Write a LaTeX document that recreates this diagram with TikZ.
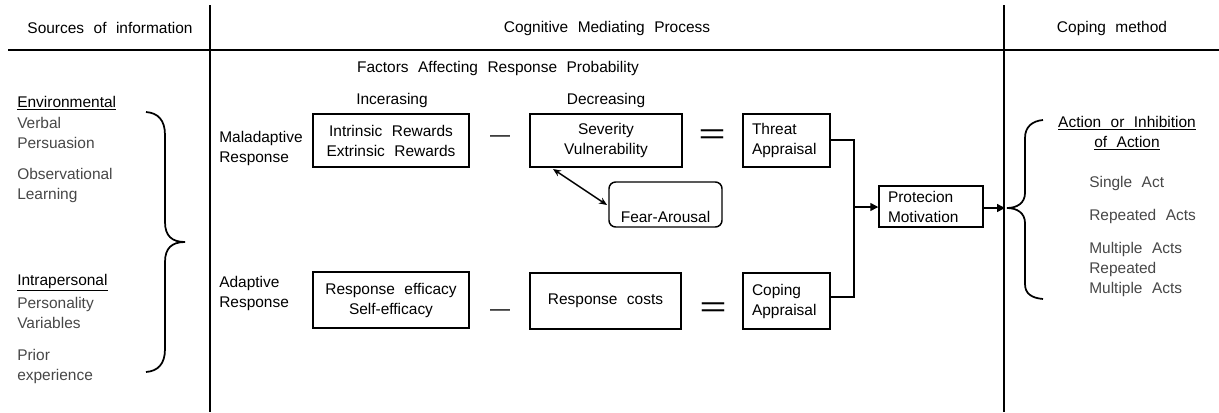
\documentclass[tikz,border=0pt]{standalone}
\usepackage{fontspec}
\usepackage{graphicx}
\setmainfont{Liberation Sans}[WordSpace={2.2,0,0}]
\usetikzlibrary{arrows.meta}
\definecolor{gtext}{gray}{0.28}
\begin{document}
\begin{tikzpicture}[x=0.75pt,y=-0.75pt,
  every node/.style={font=\fontsize{11.6pt}{15pt}\selectfont, inner sep=0pt},
  frame/.style={line width=1.5pt},
  box/.style={draw, line width=1.1pt, minimum height=39.75pt, align=center},
  lbox/.style={draw, line width=1.1pt, minimum height=39.75pt, align=left, inner xsep=6.75pt},
  lbl/.style={anchor=west, align=left},
  glbl/.style={anchor=west, align=left, text=gtext},
  conn/.style={line width=1.1pt},
  brace/.style={line width=1.3pt},
  minusop/.style={font=\fontsize{15pt}{15pt}\selectfont},
  eqop/.style={font=\fontsize{21pt}{21pt}\selectfont}
]
\useasboundingbox (0,0) rectangle (1219,412);
% table frame
\coordinate (hl) at (8,50);
\coordinate (hr) at (1219,50);
\coordinate (v1t) at (210,5);
\coordinate (v1b) at (210,412);
\coordinate (v2t) at (1004,5);
\coordinate (v2b) at (1004,412);
\draw[frame] (hl) -- (hr);
\draw[frame] (v1t) -- (v1b);
\draw[frame] (v2t) -- (v2b);
% headers
\node (h1) at (110,28) {Sources of information};
\node (h2) at (607,28) {Cognitive Mediating Process};
\node (h3) at (1112,28) {Coping method};
% left column
\node[lbl] (env) at (17,103) {\underline{Environmental}};
\node[glbl] (verb) at (17,133) {Verbal\\Persuasion};
\node[glbl] (obs) at (17,185) {Observational\\Learning};
\node[lbl] (intra) at (17,283) {\underline{Intrapersonal}};
\node[glbl] (pers) at (17,313) {Personality\\Variables};
\node[glbl] (prior) at (17,366) {Prior\\experience};
% left brace
\coordinate (lbt) at (146,112);
\coordinate (lbm) at (185,242);
\coordinate (lbb) at (146,372);
\draw[brace] (lbt) .. controls (158,113) and (165,120) .. (165,135)
  -- (165,222) .. controls (165,236) and (172,242) .. (lbm)
  .. controls (172,242) and (165,248) .. (165,262)
  -- (165,349) .. controls (165,364) and (158,371) .. (lbb);
% middle column
\node (fac) at (498,68) {Factors Affecting Response Probability};
\node (inc) at (392,100) {Incerasing};
\node (dec) at (606,100) {Decreasing};
\node[lbl] (mal) at (219,148) {Maladaptive\\Response};
\node[lbl] (ada) at (219,293) {Adaptive\\Response};
\node[box, minimum width=117pt] (intr) at (391,140.5) {Intrinsic Rewards\\Extrinsic Rewards};
\node[minusop] (m1) at (500,139) {—};
\node[box, minimum width=114pt] (sev) at (606,140.5) {Severity\\Vulnerability};
\node[eqop] (e1) at (712,137) {\scalebox{1.65}[1]{=}};
\node[lbox, text width=51.75pt] (thr) at (786.5,140.5) {Threat\\Appraisal};
\node[draw, line width=1.1pt, rounded corners=5pt, minimum width=84.75pt,
      text height=30pt, text depth=3.75pt, inner ysep=0pt] (fear) at (665.5,204.5) {Fear-Arousal};
\node[box, minimum width=117pt, minimum height=42pt] (resp) at (391,300) {Response efficacy\\Self-efficacy};
\node[minusop] (m2) at (500,313) {—};
\node[box, minimum width=113.25pt, minimum height=42pt] (cost) at (605.5,301) {Response costs};
\node[eqop] (e2) at (713,310) {\scalebox{1.65}[1]{=}};
\node[lbox, text width=51.75pt, minimum height=42pt] (cop) at (786.5,301) {Coping\\Appraisal};
\node[lbox, text width=64.5pt, minimum height=30.75pt] (prot) at (931,206.5) {Protecion\\Motivation};
% connectors
\coordinate (jt) at (854,140);
\coordinate (jb) at (854,297);
\coordinate (jm) at (854,207);
\coordinate (sevp) at (553,169);
\coordinate (fearp) at (607,205);
\draw[conn] (thr.east |- jt) -- (jt) -- (jb) -- (cop.east |- jb);
\draw[conn, -{Triangle[length=6pt,width=6pt]}] (jm) -- (prot.west |- jm);
\draw[conn, {Stealth[length=6pt,width=5pt]}-{Stealth[length=6pt,width=5pt]}] (sevp) -- (fearp);
\coordinate (rtip) at (1005,208);
\draw[conn, -{Triangle[length=6pt,width=6pt]}] (prot.east |- rtip) -- (rtip);
% right brace
\coordinate (rbt) at (1043,120);
\coordinate (rbm) at (1007,208);
\coordinate (rbb) at (1043,299);
\draw[brace] (rbt) .. controls (1032,121) and (1025,127) .. (1025,138)
  -- (1025,193) .. controls (1025,203) and (1017,208) .. (rbm)
  .. controls (1017,208) and (1025,213) .. (1025,223)
  -- (1025,284) .. controls (1025,294) and (1032,298) .. (rbb);
% right column
\node[align=center] (act) at (1127,133) {\underline{Action or Inhibition}\\\underline{of Action}};
\node[glbl] (single) at (1089,183) {Single Act};
\node[glbl] (rep) at (1089,216) {Repeated Acts};
\node[glbl] (mult) at (1089,269) {Multiple Acts\\Repeated\\Multiple Acts};
\end{tikzpicture}
\end{document}
